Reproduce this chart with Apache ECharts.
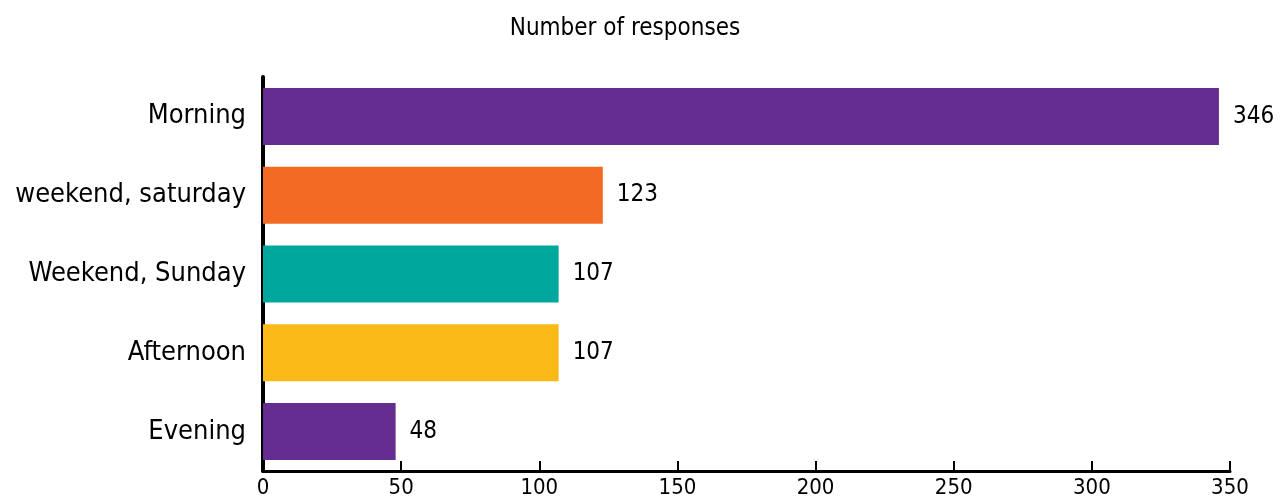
<!DOCTYPE html>
<html><head><meta charset="utf-8">
<script src="https://cdn.jsdelivr.net/npm/echarts@6/dist/echarts.min.js"></script>
<style>html,body{margin:0;padding:0;background:#fff}#c{width:1281px;height:504px}</style>
</head><body><div id="c"></div>
<script>
const categories = ["Morning", "weekend, saturday", "Weekend, Sunday", "Afternoon", "Evening"];
const values = [346, 123, 107, 107, 48];
const barColors = ["#662D91", "#F26A24", "#00A79D", "#FBB917", "#662D91"];
const xTicks = [0, 50, 100, 150, 200, 250, 300, 350];
const titleText = "Number of responses";

const FONT = "'Liberation Sans Narrow', 'DejaVu Sans Condensed', 'Noto Sans', sans-serif";
const chart = echarts.init(document.getElementById('c'));
chart.setOption({
  animation: false,
  title: { text: titleText, left: 620, top: 12, textAlign: 'center',
    textStyle: { fontFamily: FONT, fontSize: 24, fontWeight: 'normal', color: '#000' } },
  grid: { left: 263, right: 51, top: 77, bottom: 33, containLabel: false, outerBoundsMode: 'none' },
  xAxis: {
    type: 'value', min: xTicks[0], max: xTicks[xTicks.length - 1], interval: 50,
    splitLine: { show: false },
    axisLine: { show: true, lineStyle: { color: '#000', width: 3 } },
    axisTick: { show: true, inside: true, length: 10, lineStyle: { color: '#000', width: 2 } },
    axisLabel: { fontFamily: FONT, fontSize: 22, color: '#000', margin: 6 }
  },
  yAxis: {
    type: 'category', data: categories, inverse: true,
    axisLine: { show: true, lineStyle: { color: '#000', width: 4 } },
    axisTick: { show: false },
    axisLabel: { fontFamily: FONT, fontSize: 27, color: '#000', margin: 17 }
  },
  series: [{
    type: 'bar', barWidth: 57,
    data: values.map((v, i) => ({ value: v, itemStyle: { color: barColors[i] } })),
    label: { show: true, position: 'right', distance: 14, fontFamily: FONT, fontSize: 24, color: '#000' }
  }]
});
</script></body></html>
